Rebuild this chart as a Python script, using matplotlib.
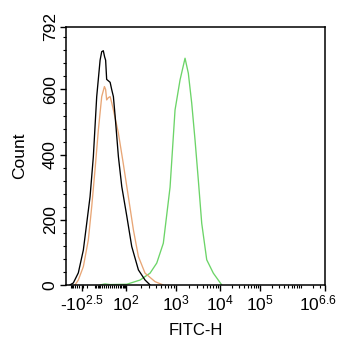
import numpy as np
import matplotlib.pyplot as plt
import matplotlib.transforms as mtransforms
from matplotlib.ticker import FixedLocator, FixedFormatter

plt.rcParams['font.family'] = ['Liberation Sans', 'DejaVu Sans']
plt.rcParams['mathtext.fontset'] = 'custom'
plt.rcParams['mathtext.rm'] = 'Liberation Sans'
plt.rcParams['mathtext.default'] = 'regular'

# FITC-H histograms (signal value, event count)
fitc_black = [-948, -702, -445, -281, -205, -150, -109, -77, -52, -42, -33, -26, -21,
              -16, 0, 7, 15, 23, 41, 63, 104, 132, 181, 246, 309]
count_black = [0, 6, 37, 107, 190, 271, 394, 578, 690, 716, 719, 700, 690,
               631, 622, 600, 578, 521, 394, 302, 210, 118, 46, 15, 0]

fitc_orange = [-601, -445, -281, -177, -128, -92, -64, -42, -27, -21, -16, -8, 0,
               7, 15, 41, 74, 112, 143, 181, 246, 388, 557]
count_orange = [0, 15, 56, 138, 240, 353, 476, 578, 609, 600, 568, 575, 578,
                560, 537, 466, 374, 271, 169, 87, 36, 10, 0]

fitc_green = [-52, -24, 0, 104, 196, 309, 419, 564, 764, 956, 1232, 1602, 1902,
              2272, 2702, 3210, 3836, 4983, 7037, 11020]
count_green = [0, 3, 1, 2, 15, 36, 67, 128, 300, 537, 629, 696, 650,
               558, 445, 322, 189, 77, 36, 0]

# axis decades
major_vals = [-10 ** 2.5, 1e2, 1e3, 1e4, 1e5, 10 ** 6.6]
major_labels = ['-$10^{2.5}$', '$10^{2}$', '$10^{3}$', '$10^{4}$', '$10^{5}$', '$10^{6.6}$']
y_ticks = [0, 200, 400, 600, 792]

# biexponential-like display: asinh of the signal, stretched piecewise between decades
W = 50.0
axis_min = -W * np.sinh(4.0)
axis_max = 10 ** 6.6
U = np.arcsinh(np.array([axis_min] + major_vals) / W)
F = np.array([0.0, 0.062, 0.232, 0.425, 0.595, 0.749, 1.0])


def biex(x):
    return np.interp(np.arcsinh(np.asarray(x, dtype=float) / W), U, F)


def biex_inv(f):
    return W * np.sinh(np.interp(np.asarray(f, dtype=float), F, U))


minor_vals = []
for n in [1, 2]:
    for k in range(1, 10):
        v = -k * 10 ** n
        if v > axis_min and v != -100:
            minor_vals.append(v)
for n in range(1, 7):
    for k in range(1, 10):
        v = k * 10 ** n
        if v < axis_max and v not in major_vals:
            minor_vals.append(v)
minor_vals.append(0)

fig = plt.figure(figsize=(3.42, 3.5), dpi=100)
ax = fig.add_axes([0.193, 0.186, 0.757, 0.737])
ax.set_xscale('function', functions=(biex, biex_inv))

ax.plot(fitc_green, count_green, color='#6cd468', lw=0.95)
ax.plot(fitc_orange, count_orange, color='#e8a676', lw=0.95)
ax.plot(fitc_black, count_black, color='black', lw=0.95)

ax.set_xlim(axis_min, axis_max)
ax.set_ylim(0, 792)

ax.xaxis.set_major_locator(FixedLocator(major_vals))
ax.xaxis.set_major_formatter(FixedFormatter(major_labels))
ax.xaxis.set_minor_locator(FixedLocator(minor_vals))
ax.set_yticks(y_ticks)
ax.yaxis.set_minor_locator(FixedLocator(np.arange(0, 792, 40)))

ax.tick_params(which='major', length=4, width=1, labelsize=12.5, pad=2)
ax.tick_params(which='minor', length=2, width=0.8)
for lab in ax.get_yticklabels():
    lab.set_rotation(90)
    lab.set_va('center')

# keep the last decade label inside the figure
last = ax.get_xticklabels()[-1]
last.set_transform(last.get_transform() +
                   mtransforms.ScaledTranslation(-5 / 72, 0, fig.dpi_scale_trans))

for s in ax.spines.values():
    s.set_linewidth(1.1)

ax.set_xlabel('FITC-H', fontsize=12, labelpad=7)
ax.set_ylabel('Count', fontsize=12.5, labelpad=11)

fig.savefig('out.png', dpi=100)
